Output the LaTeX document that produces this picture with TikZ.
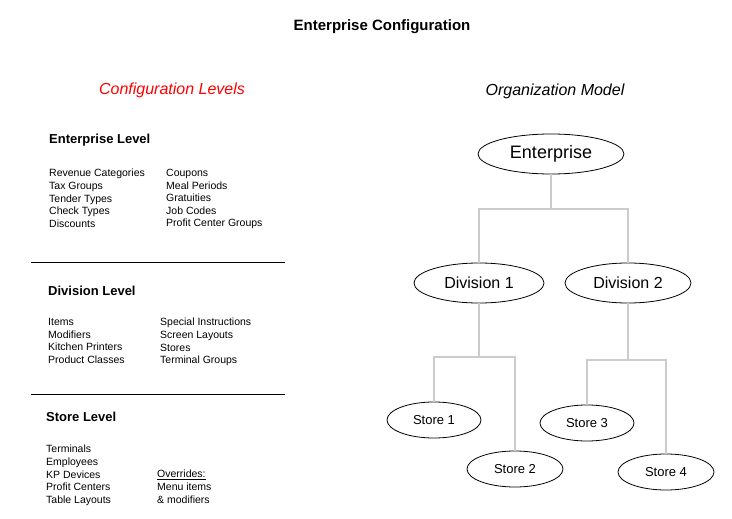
\documentclass[tikz,border=0pt]{standalone}
\usepackage{fontspec}
\setmainfont{Liberation Sans}
\usetikzlibrary{shapes.geometric}
\begin{document}
\begin{tikzpicture}[x=1pt,y=-1pt,
 el/.style={draw,ellipse,thick,inner sep=0pt},
 con/.style={draw=black!20,line width=1.5pt},
 li/.style={anchor=north west,align=left,font=\fontsize{10.5}{12.6}\selectfont,inner sep=0pt},
 hd/.style={anchor=west,font=\fontsize{13}{15}\selectfont\bfseries,inner sep=0pt}]
\useasboundingbox (0,0) rectangle (732,519);
\node[font=\fontsize{15}{18}\selectfont\bfseries] (t) at (382,27) {Enterprise Configuration};
\node[font=\fontsize{16}{19}\selectfont\itshape,text=red] (cl) at (172,90) {Configuration Levels};
\node[font=\fontsize{16}{19}\selectfont\itshape] (om) at (555,91) {Organization Model};
\node[hd] (h1) at (49,140) {Enterprise Level};
\node[li] (a1) at (49,169) {Revenue Categories\\Tax Groups\\Tender Types\\Check Types\\Discounts};
\node[li] (a2) at (166,169) {Coupons\\Meal Periods\\Gratuities\\Job Codes\\Profit Center Groups};
\draw (31,262) -- (285,262);
\node[hd] (h2) at (48,291) {Division Level};
\node[li] (b1) at (48,318) {Items\\Modifiers\\Kitchen Printers\\Product Classes};
\node[li] (b2) at (160,318) {Special Instructions\\Screen Layouts\\Stores\\Terminal Groups};
\draw (31,394) -- (285,394);
\node[hd] (h3) at (46,417) {Store Level};
\node[li] (c1) at (46,445) {Terminals\\Employees\\KP Devices\\Profit Centers\\Table Layouts};
\node[li] (c2) at (157,470) {\underline{Overrides:}\\Menu items\\\& modifiers};
\node[el,minimum width=146,minimum height=40,font=\fontsize{18}{20}\selectfont] (e) at (551,154) {Enterprise};
\node[el,minimum width=130,minimum height=40,font=\fontsize{16}{19}\selectfont] (d1) at (479,283) {Division 1};
\node[el,minimum width=126,minimum height=40,font=\fontsize{16}{19}\selectfont] (d2) at (628,283) {Division 2};
\node[el,minimum width=94,minimum height=36,font=\fontsize{13}{15}\selectfont] (s1) at (434,420) {Store 1};
\node[el,minimum width=96,minimum height=36,font=\fontsize{13}{15}\selectfont] (s2) at (515,469) {Store 2};
\node[el,minimum width=94,minimum height=36,font=\fontsize{13}{15}\selectfont] (s3) at (587,423) {Store 3};
\node[el,minimum width=96,minimum height=36,font=\fontsize{13}{15}\selectfont] (s4) at (666,472) {Store 4};
\draw[con] (e.south) |- (479,209) -- (d1.north);
\draw[con] (e.south) |- (628,209) -- (d2.north);
\draw[con] (d1.south) |- (434,357) -- (s1.north);
\draw[con] (d1.south) |- (515,357) -- (s2.north);
\draw[con] (d2.south) |- (587,360) -- (s3.north);
\draw[con] (d2.south) |- (666,360) -- (s4.north);
\end{tikzpicture}
\end{document}
